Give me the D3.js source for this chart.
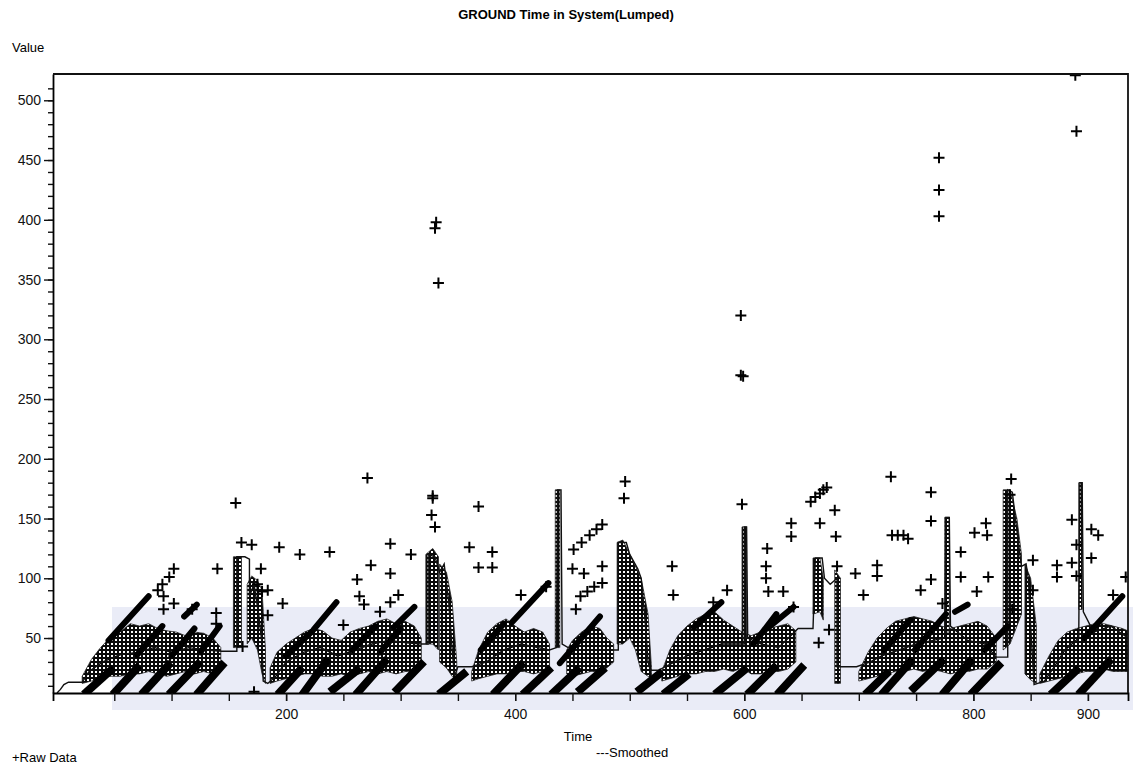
<!DOCTYPE html>
<html>
<head>
<meta charset="utf-8">
<script src="https://cdn.jsdelivr.net/npm/d3@7"></script>
<style>
  body { margin: 0; background: #fff; }
  svg { display: block; font-family: "Liberation Sans", Arial, sans-serif; }
</style>
</head>
<body>
<svg id="chart" width="1133" height="766"></svg>
<script>
// ---- data (time, value) ----
const chartTitle = 'GROUND Time in System(Lumped)';
const yTicks = [50, 100, 150, 200, 250, 300, 350, 400, 450, 500];
const xTicks = [200, 400, 600, 800, 900];

// isolated raw data crosses
const rawPoints = [
  [92,95],[98,101],[102,108],[88,90],[93,85],[102,79],[93,74],[118,74],[139,71],[139,62],[140,108],
  [156,163],[161,130],[170,128],[178,108],[175,95],[179,89],[162,43],[172,5],[184,90],[184,69],
  [194,126],[212,120],[238,122],[197,79],[271,184],[274,111],[291,129],[291,104],[309,120],[262,99],
  [264,85],[268,78],[298,86],[291,80],[282,72],[250,61],[328,167],[327,153],[330,143],[360,126],
  [368,160],[368,109],[331,398],[330,393],[333,347],[328,169],
  [380,122],[380,109],[405,86],[451,124],[458,130],[465,136],[471,141],[476,145],[450,108],[460,104],
  [476,110],[476,96],[453,74],[496,181],[495,167],[537,110],[538,86],[427,93],[457,85],[463,89],[469,93],
  [597,320],[597,270],[599,269],
  [598,162],[620,125],[619,110],[619,100],[621,89],[634,89],[641,146],[641,135],[658,164],[662,168],
  [666,171],[669,174],[672,176],[679,157],[666,146],[680,135],[681,110],[697,104],[704,86],[716,111],
  [716,102],[728,185],[729,136],[734,136],[739,136],[665,46],[674,57],[585,90],[643,76],[573,80],
  [763,172],[763,148],[743,133],[789,122],[789,101],[801,138],[811,146],[812,136],[813,101],[803,89],
  [833,183],[832,170],[852,115],[852,90],[834,74],[873,111],[873,101],[886,149],[890,128],[886,113],
  [890,102],[903,141],[909,136],[903,117],[922,86],[933,101],[763,99],[754,90],[773,79],
  [770,452],[770,425],[770,403],[889,521],[890,474]
];

// dense diagonal runs of raw crosses: [t0, v0, t1, v1]
const rawStreaks = [
  [26,5,47,23],[51,5,70,25],[76,5,97,27],[100,5,123,28],[124,5,144,27],
  [195,5,212,23],[216,5,235,30],[241,7,262,23],[263,5,286,30],[297,7,318,28],[336,5,355,20],
  [383,5,405,27],[409,5,429,23],[434,5,454,23],[457,7,476,23],[509,7,526,20],[532,5,549,18],
  [577,5,600,23],[605,5,626,25],[631,5,650,25],[708,5,724,20],[722,5,745,30],
  [748,8,772,30],[775,5,797,30],[800,5,822,27],[870,5,890,23],[894,5,918,30]
];
const rawUpperStreaks = [
  [45,48,80,85],[70,36,92,60],[100,35,120,58],[111,68,122,78],[125,38,142,60],
  [200,35,222,55],[224,57,244,80],[258,40,278,60],[282,38,300,58],[294,59,312,76],
  [370,40,390,62],[397,63,429,96],[439,29,474,68],
  [556,59,580,80],[608,45,628,70],[620,58,643,76],[722,40,745,65],
  [749,40,776,70],[784,72,795,78],[810,40,830,60],[897,50,930,85]
];

// envelopes of the rapidly oscillating smoothed curve: [t, low, high]
const smoothBands = [
  [[22,12,18],[30,14,32],[38,16,42],[46,18,50],[55,18,55],[64,20,62],[72,20,60],[80,22,62],[88,20,58],
   [96,18,56],[104,20,55],[112,22,52],[120,20,55],[128,22,54],[136,20,50],[143,25,42]],
  [[154,42,118],[161,42,118]],
  [[166,45,95],[170,50,102],[175,40,98],[179,20,90],[182,12,40]],
  [[186,12,25],[192,14,38],[200,16,45],[208,18,50],[216,20,55],[224,20,58],[232,18,56],[240,18,50],
   [248,20,48],[256,18,55],[264,20,58],[272,22,60],[280,20,64],[288,22,66],[296,20,62],[304,22,64],
   [312,22,60],[318,30,50]],
  [[322,45,120],[328,45,125],[333,40,118]],
  [[334,30,112],[340,25,105],[345,18,80],[349,14,30]],
  [[362,14,22],[368,16,40],[376,18,55],[384,20,62],[392,20,66],[400,22,60],[408,22,55],[416,20,58],
   [424,22,55],[430,25,45]],
  [[445,20,40],[450,18,48],[458,20,55],[466,22,60],[474,22,58],[480,25,50],[486,30,45]],
  [[435,42,174],[439,42,174]],
  [[489,45,130],[494,45,132],[500,50,120],[505,40,110],[510,22,100],[516,18,70],[519,16,25]],
  [[528,14,22],[535,16,40],[542,18,52],[550,20,60],[558,20,66],[566,22,70],[574,22,72],[582,24,65],
   [590,22,60],[598,25,55],[606,20,52],[614,20,55],[622,22,58],[630,22,60],[638,24,62],[645,30,56]],
  [[598,50,143],[602,50,143]],
  [[660,70,117],[666,72,117],[669,65,100]],
  [[679,12,107],[684,12,100]],
  [[700,14,22],[708,16,38],[716,18,50],[724,20,58],[732,22,64],[740,22,66],[748,24,68],[756,22,66],
   [764,24,64],[772,22,60],[780,20,58],[788,22,60],[796,22,62],[804,24,64],[812,24,60],[820,30,50]],
  [[775,55,151],[779,55,151]],
  [[826,40,174],[832,45,174],[838,60,150],[842,70,120]],
  [[845,20,112],[850,15,100],[855,12,60]],
  [[858,12,20],[866,14,35],[874,16,48],[882,18,55],[890,20,58],[898,22,60],[906,22,62],[914,24,62],
   [922,22,60],[930,22,58],[935,22,56]],
  [[892,74,180],[895,74,180]]
];

// smoothed curve (main path)
const smoothed = [
  [0,4],[3,7],[6,11],[10,13],[22,13],[28,22],[40,30],[55,36],[70,38],[85,42],[100,38],[115,42],[130,40],
  [144,39],[157,39],[157,118],[164,118],[168,116],[168,85],[172,95],[176,70],[179,45],[180,14],[184,12],
  [191,18],[200,30],[215,38],[230,42],[245,35],[260,40],[275,45],[290,48],[305,46],[318,45],[324,45],
  [324,120],[330,118],[334,105],[338,112],[342,80],[345,40],[347,18],[350,26],[362,26],[375,30],[390,40],
  [405,45],[420,42],[430,40],[436,42],[437,174],[440,174],[441,45],[450,40],[470,40],[490,40],[490,130],
  [497,130],[500,120],[507,108],[510,100],[513,70],[516,30],[518,23],[525,23],[535,28],[550,35],[565,40],
  [580,45],[595,45],[600,45],[600,143],[602,143],[603,50],[615,45],[630,42],[647,58],[660,58],[662,117],
  [668,117],[670,100],[675,95],[681,100],[681,26],[698,26],[710,30],[720,35],[735,40],[750,45],[765,48],
  [775,50],[776,151],[779,151],[780,60],[795,48],[810,45],[820,34],[830,34],[830,174],[834,172],
  [838,140],[842,110],[846,112],[848,100],[850,60],[853,11],[862,14],[870,25],[880,40],[892,50],
  [893,180],[895,180],[896,72],[905,55],[920,60],[935,50]
];

// ---- drawing ----
const svg = d3.select('#chart');
const margin = { top: 74, right: 5, bottom: 73, left: 53 };
const width = +svg.attr('width');
const height = +svg.attr('height');

const x = d3.scaleLinear().domain([-3.5, 935]).range([margin.left, width - margin.right]);
const y = d3.scaleLinear().domain([4, 522]).range([height - margin.bottom, margin.top]);

const defs = svg.append('defs');

// cross-hatch look of overlapping symbols
const pat = defs.append('pattern')
  .attr('id', 'hatch')
  .attr('patternUnits', 'userSpaceOnUse')
  .attr('width', 4).attr('height', 4);
pat.append('rect').attr('width', 4).attr('height', 4).attr('fill', '#fff');
pat.append('path').attr('d', 'M0,2H4M2,0V4').attr('stroke', '#0a0a0a').attr('stroke-width', 2);

defs.append('clipPath').attr('id', 'plotClip')
  .append('rect')
  .attr('x', x.range()[0]).attr('y', y.range()[1])
  .attr('width', x.range()[1] - x.range()[0])
  .attr('height', y.range()[0] - y.range()[1]);

// faint scanner tint behind the lower band
svg.append('rect')
  .attr('x', 112).attr('y', 607)
  .attr('width', width - 112).attr('height', 103)
  .attr('fill', '#eaecf7');

const g = svg.append('g').attr('clip-path', 'url(#plotClip)');

// 1. smoothed envelopes
const area = d3.area()
  .x(d => x(d[0]))
  .y0(d => y(d[1]))
  .y1(d => y(d[2]));

g.selectAll('.band')
  .data(smoothBands)
  .enter()
  .append('path')
  .attr('class', 'band')
  .attr('d', area)
  .attr('fill', 'url(#hatch)')
  .attr('stroke', '#222')
  .attr('stroke-width', 0.8);

// 2. smoothed line
g.append('path')
  .datum(smoothed)
  .attr('d', d3.line().x(d => x(d[0])).y(d => y(d[1])))
  .attr('fill', 'none')
  .attr('stroke', '#111')
  .attr('stroke-width', 1.4);

// 3. dense runs of raw crosses
g.selectAll('.streak')
  .data(rawStreaks)
  .enter()
  .append('line')
  .attr('class', 'streak')
  .attr('x1', d => x(d[0])).attr('y1', d => y(d[1]))
  .attr('x2', d => x(d[2])).attr('y2', d => y(d[3]))
  .attr('stroke', '#000')
  .attr('stroke-width', 8)
  .attr('stroke-linecap', 'square');

g.selectAll('.ustreak')
  .data(rawUpperStreaks)
  .enter()
  .append('line')
  .attr('class', 'ustreak')
  .attr('x1', d => x(d[0])).attr('y1', d => y(d[1]))
  .attr('x2', d => x(d[2])).attr('y2', d => y(d[3]))
  .attr('stroke', '#000')
  .attr('stroke-width', 6)
  .attr('stroke-linecap', 'round');

// 4. isolated raw crosses
g.selectAll('.pt')
  .data(rawPoints)
  .enter()
  .append('path')
  .attr('class', 'pt')
  .attr('transform', d => `translate(${x(d[0])},${y(d[1])})`)
  .attr('d', 'M-5.5,0H5.5M0,-5.5V5.5')
  .attr('stroke', '#000')
  .attr('stroke-width', 2);

// 5. axes
const axisG = svg.append('g').style('font-family', '"Liberation Sans", Arial, sans-serif');

const yMinor = d3.range(10, 520, 10);
axisG.append('g')
  .attr('transform', `translate(${x.range()[0]},0)`)
  .call(d3.axisLeft(y).tickValues(yMinor).tickSize(5).tickFormat(''))
  .call(a => a.select('.domain').remove());

axisG.append('g')
  .attr('transform', `translate(${x.range()[0]},0)`)
  .call(d3.axisLeft(y).tickValues(yTicks).tickSize(9).tickPadding(3).tickSizeOuter(0))
  .call(a => a.selectAll('text').attr('font-size', 14).attr('fill', '#111'))
  .call(a => a.select('.domain').attr('stroke-width', 1.8));

const xMinor = d3.range(50, 935, 50);
axisG.append('g')
  .attr('transform', `translate(0,${y.range()[0]})`)
  .call(d3.axisBottom(x).tickValues(xMinor).tickSize(8).tickFormat(''))
  .call(a => a.select('.domain').attr('stroke-width', 1.8));

axisG.append('g')
  .attr('transform', `translate(0,${y.range()[0]})`)
  .call(d3.axisBottom(x).tickValues(xTicks).tickSize(8).tickPadding(8).tickSizeOuter(0))
  .call(a => a.selectAll('text').attr('font-size', 14).attr('fill', '#111'))
  .call(a => a.select('.domain').remove());

axisG.selectAll('line').attr('stroke', '#111').attr('stroke-width', 1.4);

// top and right frame
svg.append('path')
  .attr('d', `M${x.range()[0]},${y.range()[1]}H${x.range()[1]}V${y.range()[0]}`)
  .attr('fill', 'none')
  .attr('stroke', '#111')
  .attr('stroke-width', 1.8);

// 6. labels
svg.append('text')
  .attr('x', 566).attr('y', 19)
  .attr('text-anchor', 'middle')
  .attr('font-size', 13).attr('font-weight', 'bold')
  .text(chartTitle);

svg.append('text').attr('x', 12).attr('y', 52).attr('font-size', 13).text('Value');
svg.append('text').attr('x', 578).attr('y', 741).attr('text-anchor', 'middle').attr('font-size', 13).text('Time');
svg.append('text').attr('x', 12).attr('y', 762).attr('font-size', 13).text('+Raw Data');
svg.append('text').attr('x', 596).attr('y', 757).attr('font-size', 13).text('---Smoothed');
</script>
</body>
</html>
